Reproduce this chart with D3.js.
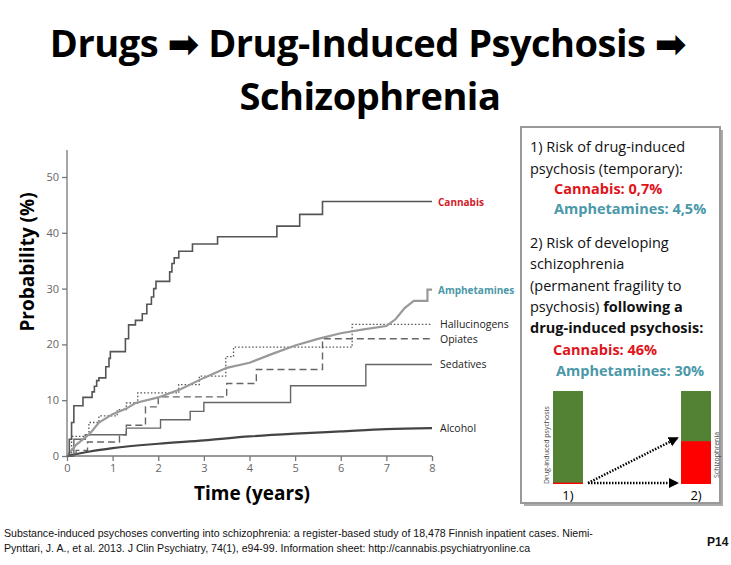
<!DOCTYPE html>
<html><head><meta charset="utf-8">
<script src="https://cdn.jsdelivr.net/npm/d3@7"></script>
<style>
body{margin:0;background:#fff;}
text{font-family:"Open Sans","DejaVu Sans",sans-serif;}
</style></head><body>
<svg id="c" width="731" height="565"></svg>
<script>
// data: [years, probability %]
const cannabis = [[0,0],[0.05,3],[0.1,6],[0.15,9],[0.35,10.5],[0.55,11.5],[0.6,12.5],[0.65,13.5],[0.7,14],[0.85,16],[0.92,17.5],[0.95,18.7],[1.28,21],[1.35,23.5],[1.5,24.3],[1.65,25.5],[1.75,27.2],[1.85,28.5],[1.9,30],[1.95,31.3],[2.25,33],[2.3,34.5],[2.35,35.5],[2.45,36.7],[2.75,38],[3.3,39.3],[4.6,41.2],[5.1,43.3],[5.6,45.6],[8,45.6]];
const amphetamines = [[0,0],[0.2,2],[0.5,4],[0.7,6],[1,7.5],[1.3,8.5],[1.5,9.5],[2,10.5],[2.5,12],[3,14],[3.5,15.8],[4,16.7],[4.5,18.3],[5,19.8],[5.5,21],[6,22],[6.5,22.7],[7,23.3],[7.2,24.5],[7.4,26.5],[7.6,27.8],[7.9,27.8],[7.9,29.8],[8,29.8]];
const hallucinogens = [[0,0],[0.1,3.5],[0.48,6],[0.7,7.2],[1.1,8.3],[1.3,9.5],[1.55,11.3],[2.45,12.8],[2.9,14.3],[3.48,17.8],[3.65,19.5],[6.25,23.6],[8,23.6]];
const opiates = [[0,0],[0.2,1],[0.45,2.5],[1.15,3.8],[1.3,5.5],[1.72,8.8],[2,10.6],[3.5,13],[4.15,15.5],[5.6,21],[8,21]];
const sedatives = [[0,0],[0.15,3],[0.4,3.8],[1.3,5],[2.05,6.5],[2.7,8],[3,9.6],[4.9,12.6],[6.55,16.4],[8,16.4]];
const alcohol = [[0,0],[0.5,0.8],[1,1.4],[2,2.2],[3,2.8],[4,3.5],[5,4],[6,4.4],[7,4.8],[8,5]];
const seriesNames = ["Cannabis","Amphetamines","Hallucinogens","Opiates","Sedatives","Alcohol"];
const xTicks = [0,1,2,3,4,5,6,7,8];
const yTicks = [0,10,20,30,40,50];
const barNames = ["1)","2)"];
const barValues = [0.7, 46]; // % red in bar 1) and bar 2)

const svg = d3.select("#c");
const x = d3.scaleLinear().domain([0,8]).range([67,432]);
const y = d3.scaleLinear().domain([0,50]).range([456,177]);

// title
const title = svg.append("g").attr("font-weight","bold").attr("font-size",38).attr("text-anchor","middle").attr("fill","#000");
title.append("text").attr("x",368).attr("y",57).attr("letter-spacing",-0.5)
  .text("Drugs \u27A1 Drug-Induced Psychosis \u27A1");
title.append("text").attr("x",370).attr("y",110).attr("letter-spacing",-0.5).text("Schizophrenia");

// axes
const ax = svg.append("g").attr("transform","translate(0,456)")
  .call(d3.axisBottom(x).tickValues(xTicks).tickSize(5).tickSizeOuter(0));
const ay = svg.append("g").attr("transform","translate(67,0)")
  .call(d3.axisLeft(y).tickValues(yTicks).tickSize(5).tickSizeOuter(0));
[ax,ay].forEach(a=>{
  a.selectAll("path,line").attr("stroke","#777").attr("stroke-width",1.3);
  a.selectAll("text").attr("fill","#666").attr("font-size",11);
  a.select(".domain").remove();
});
svg.append("line").attr("x1",67).attr("x2",432).attr("y1",456).attr("y2",456).attr("stroke","#777").attr("stroke-width",1.3);
svg.append("line").attr("x1",67).attr("x2",67).attr("y1",150).attr("y2",456).attr("stroke","#777").attr("stroke-width",1.3);

svg.append("text").attr("transform","translate(34,262) rotate(-90)").attr("text-anchor","middle")
  .attr("font-weight","bold").attr("font-size",19).text("Probability (%)");
svg.append("text").attr("x",252).attr("y",500).attr("text-anchor","middle")
  .attr("font-weight","bold").attr("font-size",19).text("Time (years)");

const step = d3.line().x(d=>x(d[0])).y(d=>y(d[1])).curve(d3.curveStepAfter);
const smooth = d3.line().x(d=>x(d[0])).y(d=>y(d[1])).curve(d3.curveMonotoneX);
const straight = d3.line().x(d=>x(d[0])).y(d=>y(d[1]));
const lines = [
  {d:alcohol, gen:smooth, c:"#444", w:2.2, dash:null},
  {d:sedatives, gen:step, c:"#666", w:1.4, dash:null},
  {d:opiates, gen:step, c:"#666", w:1.4, dash:"7,4"},
  {d:hallucinogens, gen:step, c:"#555", w:1.3, dash:"1.5,2"},
  {d:amphetamines, gen:straight, c:"#999", w:2.2, dash:null},
  {d:cannabis, gen:step, c:"#555", w:1.6, dash:null}
];
lines.forEach(l=>svg.append("path").attr("d",l.gen(l.d)).attr("fill","none")
  .attr("stroke",l.c).attr("stroke-width",l.w).attr("stroke-dasharray",l.dash));

const labels = [
  {n:seriesNames[0], v:45.6, c:"#d0202a", b:true},
  {n:seriesNames[1], v:29.8, c:"#4a98a8", b:true},
  {n:seriesNames[2], v:23.6, c:"#222", b:false},
  {n:seriesNames[3], v:21, c:"#222", b:false},
  {n:seriesNames[4], v:16.4, c:"#222", b:false},
  {n:seriesNames[5], v:5, c:"#222", b:false}
];
svg.selectAll("text.lab").data(labels).enter().append("text").attr("class","lab")
  .attr("x",d=>d.b?438:440).attr("y",d=>y(d.v)+4).attr("font-size",d=>d.b?10:10.5)
  .attr("font-weight",d=>d.b?"bold":"normal").attr("fill",d=>d.c).text(d=>d.n);

// info box
svg.append("rect").attr("x",524).attr("y",130).attr("width",199).attr("height",376).attr("fill","#aaa");
svg.append("rect").attr("x",521).attr("y",127).attr("width",199).attr("height",376).attr("fill","#fff")
  .attr("stroke","#999").attr("stroke-width",2);
const lns = [
  {t:"1) Risk of drug-induced",x:530,y:152},
  {t:"psychosis (temporary):",x:530,y:174},
  {t:"Cannabis:  0,7%",x:554,y:194,c:"#e0141b",b:1},
  {t:"Amphetamines: 4,5%",x:554,y:214,c:"#4a98a8",b:1},
  {t:"2) Risk of developing",x:530,y:248},
  {t:"schizophrenia",x:530,y:269},
  {t:"(permanent  fragility to",x:530,y:291},
  {t:"psychosis)",x:530,y:312,extra:" following a"},
  {t:"drug-induced  psychosis:",x:530,y:333,b:1},
  {t:"Cannabis:  46%",x:553,y:355,c:"#e0141b",b:1},
  {t:"Amphetamines: 30%",x:556,y:376,c:"#4a98a8",b:1}
];
lns.forEach(l=>{
  const t=svg.append("text").attr("x",l.x).attr("y",l.y).attr("font-size",14.5)
    .attr("fill",l.c||"#111").attr("font-weight",l.b?"bold":"normal").text(l.t);
  if(l.extra) t.append("tspan").attr("font-weight","bold").text(l.extra);
});

// bars
const bx = d3.scaleBand().domain(barNames).range([553,711]).paddingInner(0.766);
const by = d3.scaleLinear().domain([0,100]).range([484,391]);
barValues.forEach((v,i)=>{
  const g = svg.append("g");
  g.append("rect").attr("x",bx(barNames[i])).attr("width",bx.bandwidth())
    .attr("y",by(100)).attr("height",by(0)-by(100)).attr("fill","#548235");
  g.append("rect").attr("x",bx(barNames[i])).attr("width",bx.bandwidth())
    .attr("y",by(Math.max(v,1.5))).attr("height",by(0)-by(Math.max(v,1.5))).attr("fill","#ff0000");
  g.append("text").attr("x",bx(barNames[i])+bx.bandwidth()/2).attr("y",500)
    .attr("text-anchor","middle").attr("font-size",13).text(barNames[i]);
});
svg.append("text").attr("transform","translate(549,484) rotate(-90)").attr("font-size",7).attr("fill","#444").text("Drug-induced psychosis");
svg.append("text").attr("transform","translate(719,478) rotate(-90)").attr("font-size",7).attr("fill","#444").text("Schizophrenia");
svg.append("defs").append("marker").attr("id","ah").attr("viewBox","0 0 10 10").attr("refX",8).attr("refY",5)
  .attr("markerWidth",4).attr("markerHeight",4).attr("orient","auto")
  .append("path").attr("d","M0,0L10,5L0,10z").attr("fill","#000");
[[by(0)-1,by(46)-3],[by(0)-1,by(0)-1]].forEach(p=>svg.append("line").attr("x1",588).attr("y1",p[0])
  .attr("x2",677).attr("y2",p[1]).attr("stroke","#000").attr("stroke-width",2.5)
  .attr("stroke-dasharray","1.5,1.5").attr("marker-end","url(#ah)"));

// footer
const f = svg.append("g").attr("font-size",10.6).attr("fill","#111");
f.append("text").style("font-family","'Liberation Sans', Arial, sans-serif").attr("x",4).attr("y",537).text("Substance-induced psychoses converting into schizophrenia:  a register-based study of 18,478 Finnish inpatient cases. Niemi-");
f.append("text").style("font-family","'Liberation Sans', Arial, sans-serif").attr("x",4).attr("y",552).text("Pynttari,  J. A., et al. 2013. J Clin Psychiatry, 74(1), e94-99. Information  sheet: http://cannabis.psychiatryonline.ca");
f.append("text").style("font-family","'Liberation Sans', Arial, sans-serif").attr("x",707).attr("y",546).attr("font-weight","bold").attr("font-size",12).text("P14");
</script>
</body></html>
